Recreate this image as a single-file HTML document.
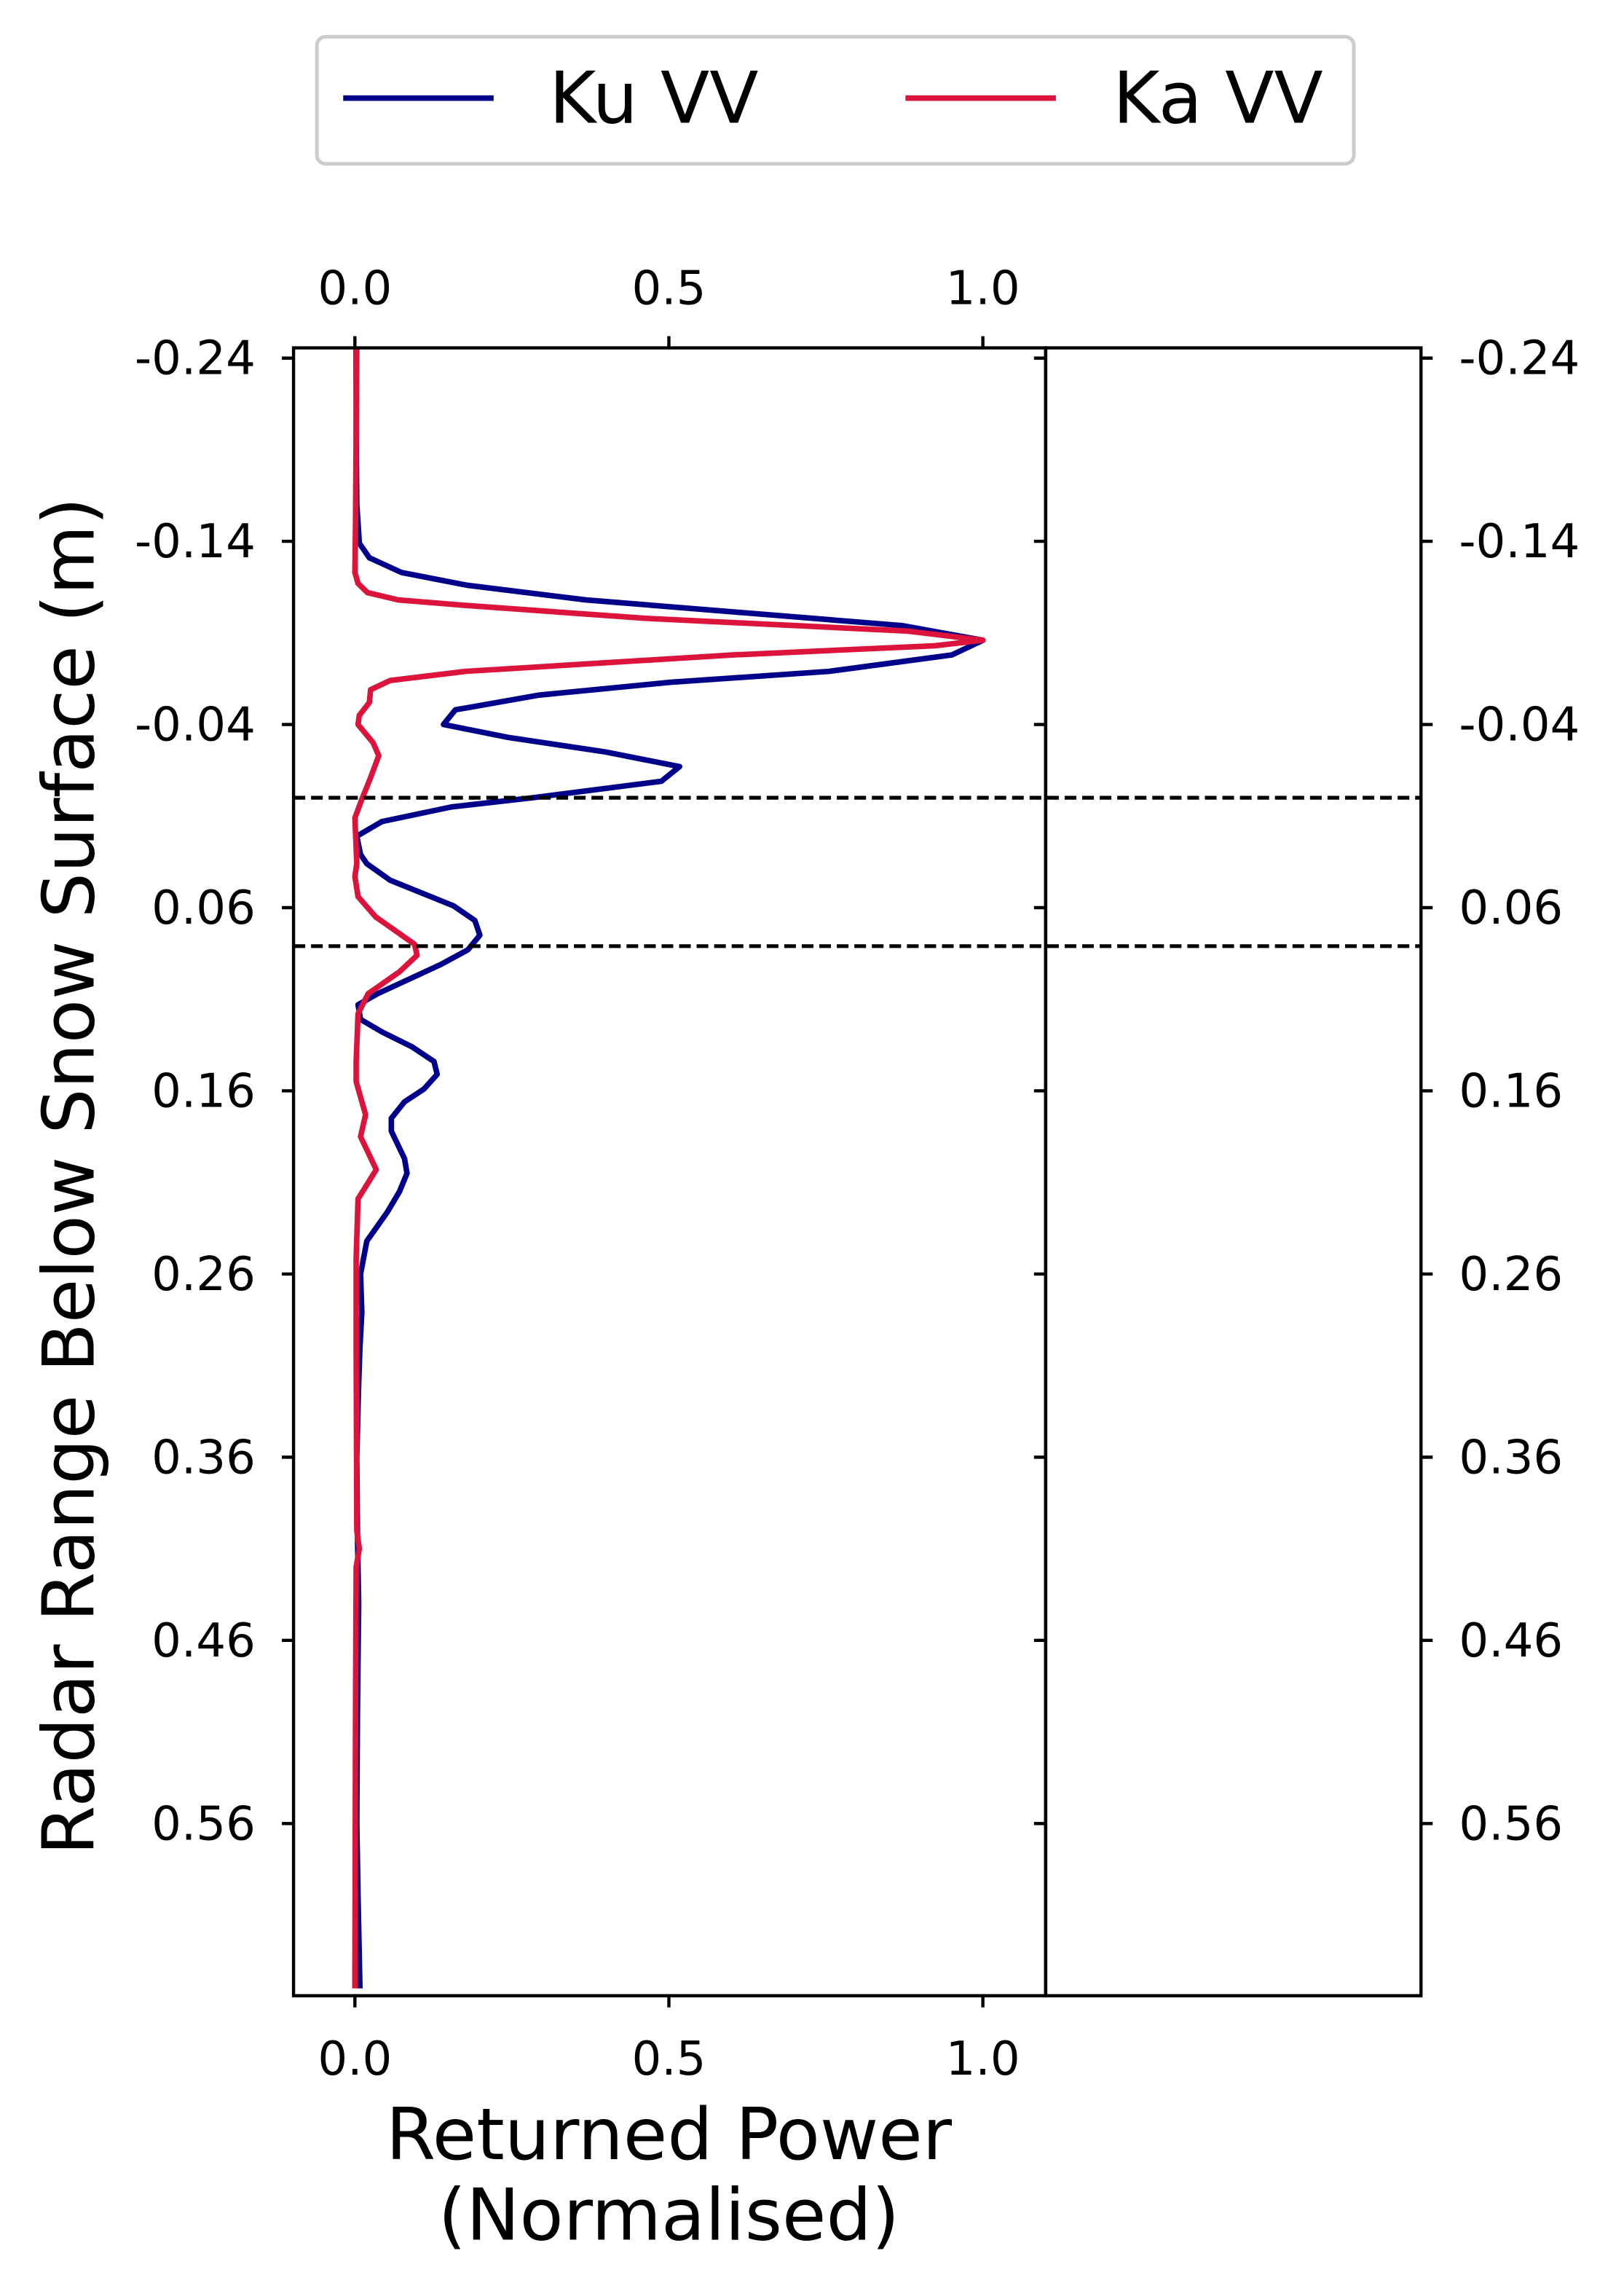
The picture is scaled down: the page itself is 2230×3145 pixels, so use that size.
<!DOCTYPE html>
<html><head><meta charset="utf-8"><style>
html,body{margin:0;padding:0;background:#fff;}
svg{display:block;}
text{font-family:"DejaVu Sans","Liberation Sans",sans-serif;fill:#000;}
</style></head><body>
<svg id="chart" width="2230" height="3145" viewBox="0 0 1112 1568" xmlns="http://www.w3.org/2000/svg">
<rect x="0" y="0" width="1112" height="1568" fill="#fff"/>
<g>
<rect x="217" y="25" width="710" height="87" rx="6" fill="#fff" stroke="#ccc" stroke-width="2.5"/>
<line x1="235" y1="67" x2="338" y2="67" stroke="#00008b" stroke-width="3.8"/>
<text x="376" y="84" font-size="49">Ku VV</text>
<line x1="620" y1="67" x2="723" y2="67" stroke="#dc143c" stroke-width="3.8"/>
<text x="762" y="84" font-size="49">Ka VV</text>
</g>
<g id="plot"></g>
<text transform="translate(64,805) rotate(-90)" text-anchor="middle" font-size="49">Radar Range Below Snow Surface (m)</text>
<text x="458" y="1478" text-anchor="middle" font-size="49">Returned Power</text>
<text x="458" y="1533" text-anchor="middle" font-size="49">(Normalised)</text>
</svg>
<script>
const yTicks = [-0.24,-0.14,-0.04,0.06,0.16,0.26,0.36,0.46,0.56];
const yTickLabels = ["-0.24","-0.14","-0.04","0.06","0.16","0.26","0.36","0.46","0.56"];
const xTicks = [0,0.5,1.0];
const xTickLabels = ["0.0","0.5","1.0"];
const interfaces = [0.0, 0.081];
const kuDepth = [-0.245,-0.2,-0.16,-0.15,-0.139,-0.131,-0.123,-0.116,-0.108,-0.094,-0.086,-0.078,-0.069,-0.063,-0.056,-0.048,-0.04,-0.033,-0.025,-0.017,-0.009,0.0,0.005,0.013,0.021,0.031,0.036,0.045,0.059,0.067,0.075,0.083,0.091,0.107,0.113,0.121,0.128,0.136,0.144,0.151,0.159,0.166,0.175,0.182,0.197,0.205,0.215,0.226,0.242,0.26,0.281,0.3,0.32,0.36,0.4,0.44,0.5,0.56,0.6,0.65];
const kuPower = [0.002,0.002,0.003,0.005,0.007,0.023,0.074,0.179,0.368,0.871,1.0,0.951,0.755,0.501,0.292,0.160,0.141,0.243,0.399,0.517,0.488,0.283,0.154,0.043,0.003,0.009,0.019,0.056,0.157,0.191,0.199,0.180,0.137,0.036,0.005,0.009,0.044,0.091,0.126,0.131,0.110,0.079,0.058,0.058,0.079,0.083,0.071,0.052,0.019,0.009,0.011,0.008,0.006,0.003,0.004,0.006,0.004,0.003,0.005,0.008];
const kaDepth = [-0.245,-0.2,-0.15,-0.123,-0.117,-0.112,-0.108,-0.105,-0.098,-0.091,-0.086,-0.083,-0.078,-0.069,-0.064,-0.059,-0.052,-0.045,-0.04,-0.03,-0.023,-0.011,0.0,0.011,0.036,0.043,0.054,0.065,0.08,0.086,0.095,0.107,0.118,0.144,0.155,0.173,0.185,0.203,0.219,0.251,0.281,0.3,0.4,0.41,0.42,0.5,0.65];
const kaPower = [0.003,0.002,0.001,0.0,0.005,0.02,0.069,0.176,0.461,0.88,1.0,0.924,0.604,0.176,0.056,0.025,0.023,0.007,0.005,0.029,0.038,0.025,0.012,0.0,0.003,0.0,0.005,0.033,0.095,0.099,0.071,0.021,0.005,0.002,0.002,0.017,0.009,0.034,0.005,0.002,0.002,0.002,0.003,0.007,0.002,0.001,0.0];

const NS='http://www.w3.org/2000/svg';
const plot=document.getElementById('plot');
const L={x0:201,x1:716,y0:238,y1:1366}, R={x0:716,x1:973};
const xMin=-0.0977, xMax=1.1, yMin=-0.2456, yMax=0.654;
function sx(v){return L.x0+(v-xMin)/(xMax-xMin)*(L.x1-L.x0);}
function sy(v){return L.y0+(v-yMin)/(yMax-yMin)*(L.y1-L.y0);}
function mk(tag,attrs){const e=document.createElementNS(NS,tag);for(const k in attrs)e.setAttribute(k,attrs[k]);plot.appendChild(e);return e;}

function series(d,p,color,name){
  const pts=d.map((y,i)=>sx(p[i]).toFixed(2)+','+sy(y).toFixed(2)).join(' ');
  const e=mk('polyline',{points:pts,fill:'none',stroke:color,'stroke-width':3.8,'stroke-linejoin':'round'});
  
  
}
series(kuDepth,kuPower,'#00008b','ku-vv-line');
series(kaDepth,kaPower,'#dc143c','ka-vv-line');

interfaces.forEach((v,i)=>{
  const e=mk('line',{x1:L.x0,x2:R.x1,y1:sy(v),y2:sy(v),stroke:'#000','stroke-width':2.6,'stroke-dasharray':'8,4'});
  
  
});

[[L.x0,L.x1,'left-axes-frame'],[R.x0,R.x1,'right-axes-frame']].forEach(f=>{
  const e=mk('rect',{x:f[0],y:L.y0,width:f[1]-f[0],height:L.y1-L.y0,fill:'none',stroke:'#000','stroke-width':2.2});
  
  
});

yTicks.forEach((v,i)=>{
  const y=sy(v);
  mk('line',{x1:L.x0-8,x2:L.x0,y1:y,y2:y,stroke:'#000','stroke-width':2.2});
  mk('line',{x1:R.x0-8,x2:R.x0,y1:y,y2:y,stroke:'#000','stroke-width':2.2});
  mk('line',{x1:R.x1,x2:R.x1+8,y1:y,y2:y,stroke:'#000','stroke-width':2.2});
  const t=mk('text',{x:L.x0-26,y:y+11,'text-anchor':'end','font-size':32});
  t.textContent=yTickLabels[i];
  
  
  const t2=mk('text',{x:R.x1+26,y:y+11,'text-anchor':'start','font-size':32});
  t2.textContent=yTickLabels[i];
  
  
});
xTicks.forEach((v,i)=>{
  const x=sx(v);
  mk('line',{x1:x,x2:x,y1:L.y0-8,y2:L.y0,stroke:'#000','stroke-width':2.2});
  mk('line',{x1:x,x2:x,y1:L.y1,y2:L.y1+8,stroke:'#000','stroke-width':2.2});
  const t=mk('text',{x:x,y:208,'text-anchor':'middle','font-size':32});
  t.textContent=xTickLabels[i];
  
  
  const b=mk('text',{x:x,y:1420,'text-anchor':'middle','font-size':32});
  b.textContent=xTickLabels[i];
  
  
});
</script>
</body></html>
